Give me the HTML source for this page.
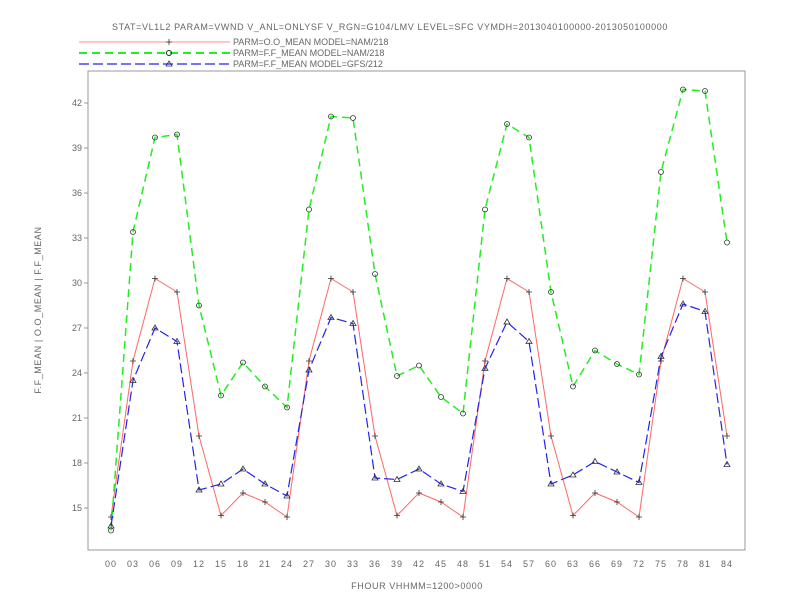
<!DOCTYPE html>
<html><head><meta charset="utf-8"><style>
body{margin:0;background:#fff;}
svg{display:block;font-family:"Liberation Sans",sans-serif;}
text{fill:#666;font-size:9px;}
</style></head><body>
<svg id="chart" width="792" height="612" xmlns="http://www.w3.org/2000/svg">
<text x="390" y="30" text-anchor="middle" style="letter-spacing:0.6px">STAT=VL1L2 PARAM=VWND V_ANL=ONLYSF V_RGN=G104/LMV LEVEL=SFC VYMDH=2013040100000-2013050100000</text>
<g>
<g><line x1="79" y1="42" x2="230" y2="42" stroke="#ff9090" stroke-width="1"/><path d="M166,42H172M169,39V45" stroke="#333" stroke-width="0.8"/><text x="233" y="45">PARM=O.O_MEAN MODEL=NAM/218</text></g>
<g><line x1="79" y1="53" x2="230" y2="53" stroke="#22ee22" stroke-width="2" stroke-dasharray="8,5"/><circle cx="169" cy="53" r="2.5" fill="none" stroke="#222"/><text x="233" y="56">PARM=F.F_MEAN MODEL=NAM/218</text></g>
<g><line x1="79" y1="64" x2="230" y2="64" stroke="#2222ee" stroke-width="1.2" stroke-dasharray="10,4"/><path d="M169,61L172,66L166,66Z" fill="none" stroke="#333" stroke-width="0.8"/><text x="233" y="67">PARM=F.F_MEAN MODEL=GFS/212</text></g>
</g>
<rect x="88" y="71" width="657" height="479" fill="none" stroke="#999"/>
<text transform="translate(41,310) rotate(-90)" text-anchor="middle" style="letter-spacing:0.6px">F.F_MEAN | O.O_MEAN | F.F_MEAN</text>
<text x="417" y="589" text-anchor="middle" style="letter-spacing:0.6px">FHOUR VHHMM=1200&gt;0000</text>
<g id="axes"></g><g id="series"></g>
</svg>
<script>
const hours=[0,3,6,9,12,15,18,21,24,27,30,33,36,39,42,45,48,51,54,57,60,63,66,69,72,75,78,81,84];
const xTickLabels=["00","03","06","09","12","15","18","21","24","27","30","33","36","39","42","45","48","51","54","57","60","63","66","69","72","75","78","81","84"];
const yTicks=[15,18,21,24,27,30,33,36,39,42];
const yTickLabels=["15","18","21","24","27","30","33","36","39","42"];
const obsNam=[14.4,24.8,30.3,29.4,19.8,14.5,16.0,15.4,14.4,24.8,30.3,29.4,19.8,14.5,16.0,15.4,14.4,24.8,30.3,29.4,19.8,14.5,16.0,15.4,14.4,24.8,30.3,29.4,19.8];
const fcstNam=[13.5,33.4,39.7,39.9,28.5,22.5,24.7,23.1,21.7,34.9,41.1,41.0,30.6,23.8,24.5,22.4,21.3,34.9,40.6,39.7,29.4,23.1,25.5,24.6,23.9,37.4,42.9,42.8,32.7];
const fcstGfs=[13.8,23.5,27.0,26.1,16.2,16.6,17.6,16.6,15.8,24.2,27.7,27.3,17.0,16.9,17.6,16.6,16.1,24.3,27.4,26.1,16.6,17.2,18.1,17.4,16.7,25.1,28.6,28.1,17.9];
const NS="http://www.w3.org/2000/svg";
const xs=h=>111+h*22/3, ys=v=>508-(v-15)*15;
const axes=document.getElementById('axes'), ser=document.getElementById('series');
function mk(t,a,p){const e=document.createElementNS(NS,t);for(const k in a)e.setAttribute(k,a[k]);p.appendChild(e);return e;}
hours.forEach((h,i)=>{
  const t=mk('text',{x:xs(h),y:567,'text-anchor':'middle',style:'letter-spacing:1px'},axes);
  
  
  t.textContent=xTickLabels[i];
});
yTicks.forEach((v,i)=>{
  const l=mk('line',{x1:84,x2:88,y1:ys(v),y2:ys(v),stroke:'#999'},axes);
  
  
  const t=mk('text',{x:82,y:ys(v)+3,'text-anchor':'end'},axes);
  
  
  t.textContent=yTickLabels[i];
});
function line(vals,color,w,dash,name,marker){
  const g=mk('g',{},ser);
  
  
  const pts=vals.map((v,i)=>xs(hours[i])+','+ys(v)).join(' ');
  mk('polyline',{points:pts,fill:'none',stroke:color,'stroke-width':w,'stroke-dasharray':dash},g);
  vals.forEach((v,i)=>{
    const x=xs(hours[i]),y=ys(v);
    let m;
    if(marker==='plus'){m=mk('path',{d:`M${x-3},${y}H${x+3}M${x},${y-3}V${y+3}`,stroke:'#333','stroke-width':0.8},g);}
    else if(marker==='circle'){m=mk('circle',{cx:x,cy:y,r:2.5,fill:'none',stroke:'#333','stroke-width':0.8},g);}
    else{m=mk('path',{d:`M${x},${y-3}L${x+3},${y+2}L${x-3},${y+2}Z`,fill:'none',stroke:'#333','stroke-width':0.8},g);}
    
    
  });
}
line(obsNam,'#ff6666',1,'none','series-obs-nam','plus');
line(fcstNam,'#22ee22',1.5,'8,5','series-fcst-nam','circle');
line(fcstGfs,'#2222ee',1.2,'10,4','series-fcst-gfs','tri');
</script>
</body></html>
